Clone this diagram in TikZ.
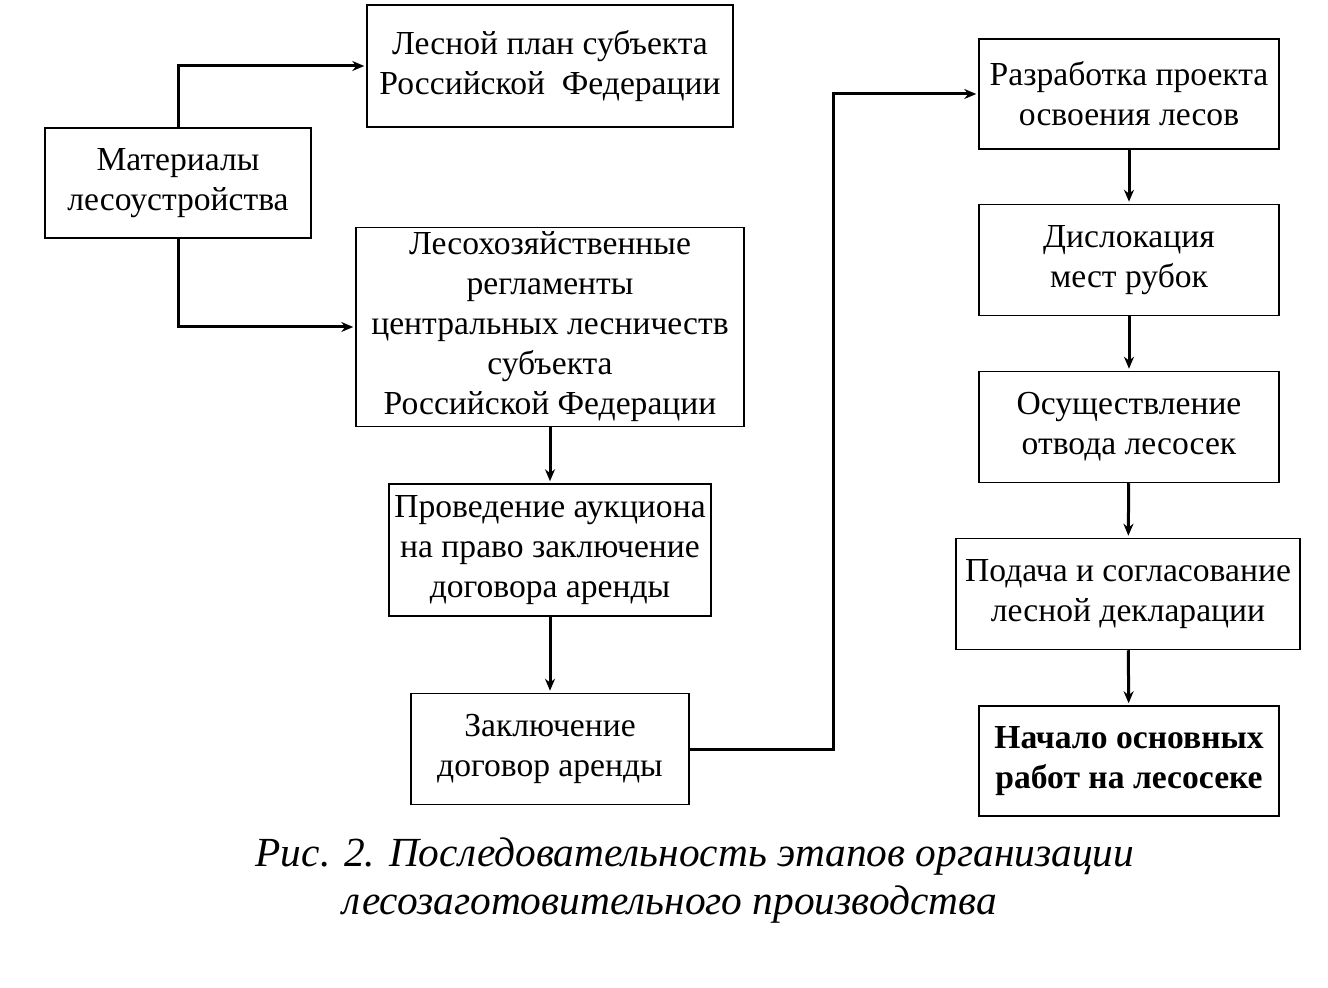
\documentclass[tikz,border=0pt]{standalone}
\usepackage{fontspec}
\setmainfont{Liberation Serif}
\usetikzlibrary{positioning,arrows.meta}

\tikzset{
  stage/.style={draw, line width=0.75pt, align=center, inner xsep=2pt, inner ysep=0pt,
    font=\fontsize{16.8}{20}\selectfont},
  flow/.style={line width=1.5pt, -{Stealth[length=6pt,width=5pt]}, shorten >=1pt},
}

\begin{document}
\begin{tikzpicture}[x=0.5pt,y=-0.5pt]
  \useasboundingbox (0,0) rectangle (1328,988);

  % left part
  \node[stage, minimum width=133pt, minimum height=55pt] (mat) at (178,183)
    {Материалы\\ лесоустройства};
  \node[stage, minimum width=183pt, minimum height=61pt] (plan) at (550,66)
    {Лесной план субъекта\\ Российской\ \ Федерации};
  \node[stage, minimum width=194pt, minimum height=99.5pt] (regl) at (550,327)
    {Лесохозяйственные\\ регламенты\\ центральных лесничеств\\ субъекта\\ Российской Федерации};
  \node[stage, minimum width=161pt, minimum height=66pt] (auk) at (550,550)
    {Проведение аукциона\\ на право заключение\\ договора аренды};
  \node[stage, minimum width=139pt, minimum height=55.5pt] (dog) at (550,749)
    {Заключение\\ договор аренды};

  % right column
  \node[stage, minimum width=150pt, minimum height=55pt] (proj) at (1129,94)
    {Разработка проекта\\ освоения лесов};
  \node[stage, minimum width=150pt, minimum height=55.5pt] (disl) at (1129,260)
    {Дислокация\\ мест рубок};
  \node[stage, minimum width=150pt, minimum height=55.5pt] (otv) at (1129,427)
    {Осуществление\\ отвода лесосек};
  \node[stage, minimum width=172pt, minimum height=55.5pt] (decl) at (1128,594)
    {Подача и согласование\\ лесной декларации};
  \node[stage, minimum width=150pt, minimum height=55pt, font=\fontsize{16.8}{20}\selectfont\bfseries] (start) at (1129,761)
    {Начало основных\\ работ на лесосеке};

  \draw[flow] (mat.north) |- (plan.west);
  \draw[flow] (mat.south) |- (regl.west);
  \draw[flow] (regl) -- (auk);
  \draw[flow] (auk) -- (dog);
  \draw[flow] (dog.east) -- (833,749) |- (proj.west);
  \draw[flow] (proj) -- (disl);
  \draw[flow] (disl) -- (otv);
  \draw[flow] (otv) -- (decl);
  \draw[flow] (decl) -- (start);

  % caption
  \node[font=\fontsize{20.7}{24}\selectfont\itshape] (cap1) at (695,857)
    {Рис. 2. Последовательность этапов организации};
  \node[font=\fontsize{20.7}{24}\selectfont\itshape] (cap2) at (670,905)
    {лесозаготовительного производства};
\end{tikzpicture}
\end{document}
